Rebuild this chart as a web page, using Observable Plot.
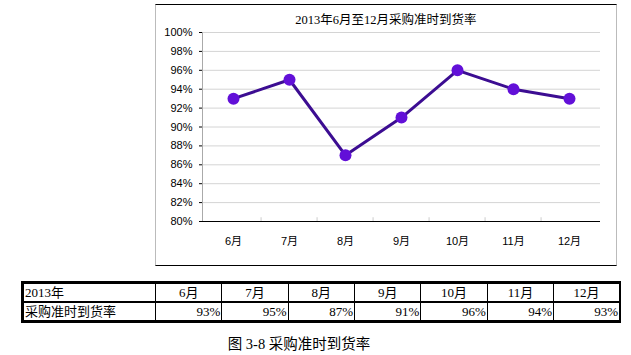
<!DOCTYPE html>
<html>
<head>
<meta charset="utf-8">
<script src="https://cdn.jsdelivr.net/npm/d3@7"></script>
<script src="https://cdn.jsdelivr.net/npm/@observablehq/plot@0.6"></script>
<style>
  body { margin: 0; background: #fff; width: 631px; height: 355px; overflow: hidden; position: relative;
         font-family: "Liberation Sans", "Noto Sans CJK SC", sans-serif; }
  #frame { position: absolute; left: 155px; top: 4px; width: 460px; height: 260px;
           border-top: 1.5px solid #000; border-bottom: 1.5px solid #000;
           border-left: 1px solid #bbb; border-right: 1px solid #bbb; }
  #chart { position: absolute; left: 0; top: 0; }
  #title { position: absolute; left: 155px; width: 462px; top: 11px; text-align: center;
           font-size: 12.5px; line-height: 18px; color: #000; font-family: "Liberation Serif", "Noto Sans CJK SC", serif; }
  table { position: absolute; left: 21px; top: 281px; border-collapse: collapse; width: 600px;
          font-size: 13px; font-family: "Liberation Serif", "Noto Sans CJK SC", serif; table-layout: fixed; }
  td { padding: 0 1px; line-height: 16px; height: 17px; border-left: 1px solid #000; border-right: 1px solid #000; white-space: nowrap; }
  tr.h td { border-top: 3px solid #000; border-bottom: 2px solid #000; text-align: center; }
  tr.v td { border-bottom: 3px solid #000; text-align: right; }
  td.first { width: 129px; text-align: left !important; border-left: 3px solid #000; }
  td:last-child { border-right: 2px solid #000; }
  #caption { position: absolute; left: 0; width: 598px; top: 332px; text-align: center; font-size: 14.5px;
             font-family: "Liberation Serif", "Noto Sans CJK SC", serif; }
</style>
</head>
<body>
<div id="frame"></div>
<div id="chart"></div>
<div id="title"></div>
<div id="caption"></div>
<script>
const chartTitle = "2013年6月至12月采购准时到货率";
const months = ["6月", "7月", "8月", "9月", "10月", "11月", "12月"];
const rates = [93, 95, 87, 91, 96, 94, 93];
const yTicks = [80, 82, 84, 86, 88, 90, 92, 94, 96, 98, 100];
const rowHeader = "2013年";
const rowLabel = "采购准时到货率";
const captionText = "图 3-8 采购准时到货率";

const data = months.map((m, i) => ({month: m, rate: rates[i]}));

const W = 631, H = 270, ML = 202, MR = 31, MT = 32, MB = 49;
const bw = (W - ML - MR) / months.length;

const chart = Plot.plot({
  width: W, height: H,
  marginLeft: ML, marginRight: MR, marginTop: MT, marginBottom: MB,
  style: {fontFamily: "Liberation Sans, Noto Sans CJK SC, sans-serif", fontSize: "11px", background: "transparent", color: "#000"},
  x: {type: "band", domain: months, padding: 0, axis: null, label: null},
  y: {domain: [80, 100], axis: null, label: null},
  marks: [
    Plot.gridY(yTicks.slice(1), {stroke: "#d4d4d4", strokeOpacity: 1}),
    Plot.frame({anchor: "left", stroke: "#aaa"}),
    Plot.axisY({ticks: yTicks, tickFormat: d => d + "%", tickSize: 3, tickPadding: 7, stroke: "#000", fontSize: 11, label: null}),
    Plot.ruleX(months.slice(1), {x: d => d, dx: -bw / 2, y1: 80, y2: 80.4, stroke: "#ccc"}),
    Plot.ruleY([80], {stroke: "#000", strokeWidth: 1.2}),
    Plot.axisX({tickSize: 0, tickPadding: 16, fontSize: 11, label: null}),
    Plot.line(data, {x: "month", y: "rate", stroke: "#3c0d92", strokeWidth: 3}),
    Plot.dot(data, {x: "month", y: "rate", r: 6, fill: "#6210d8", stroke: "none"})
  ]
});
document.getElementById("chart").appendChild(chart);
document.getElementById("title").textContent = chartTitle;
document.getElementById("caption").textContent = captionText;

const table = document.createElement("table");
const tr1 = document.createElement("tr"); tr1.className = "h";
const tr2 = document.createElement("tr"); tr2.className = "v";
const h0 = document.createElement("td"); h0.className = "first"; h0.textContent = rowHeader; tr1.appendChild(h0);
const v0 = document.createElement("td"); v0.className = "first"; v0.textContent = rowLabel; tr2.appendChild(v0);
months.forEach((m, i) => {
  const a = document.createElement("td"); a.textContent = m; tr1.appendChild(a);
  const b = document.createElement("td"); b.textContent = rates[i] + "%"; tr2.appendChild(b);
});
table.appendChild(tr1); table.appendChild(tr2);
document.body.appendChild(table);
</script>
</body>
</html>
